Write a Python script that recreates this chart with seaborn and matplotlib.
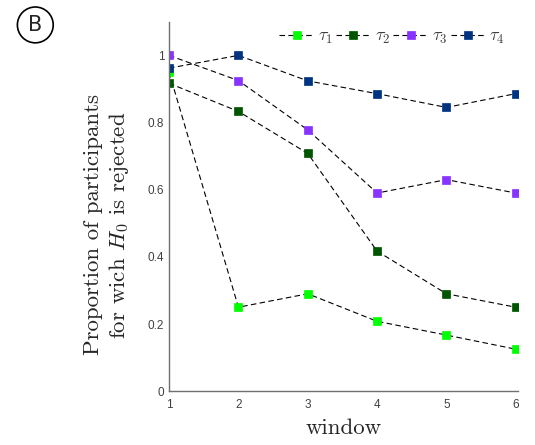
import pandas as pd
import matplotlib
matplotlib.use("Agg")
import matplotlib.pyplot as plt
import seaborn as sns

# --- datos ---
windows = [1, 2, 3, 4, 5, 6]
tau1 = [0.95, 0.25, 0.29, 0.208, 0.167, 0.125]
tau2 = [0.917, 0.833, 0.708, 0.417, 0.29, 0.25]
tau3 = [1.0, 0.925, 0.778, 0.59, 0.63, 0.59]
tau4 = [0.962, 1.0, 0.924, 0.886, 0.845, 0.886]
series_labels = [r"$\tau_1$", r"$\tau_2$", r"$\tau_3$", r"$\tau_4$"]
series_colors = ["#00ff00", "#005500", "#8833ff", "#003380"]
y_ticks = [0, 0.2, 0.4, 0.6, 0.8, 1]
y_ticklabels = ["0", "0.2", "0.4", "0.6", "0.8", "1"]

sns.set_style("white")
plt.rcParams["mathtext.fontset"] = "cm"
plt.rcParams["axes.unicode_minus"] = False

fig = plt.figure(figsize=(5.35, 4.45), dpi=100)
ax = fig.add_axes([0.316, 0.121, 0.652, 0.83])

for vals, lab, col in zip([tau1, tau2, tau3, tau4], series_labels, series_colors):
    df = pd.DataFrame({"window": windows, "prop": vals})
    sns.lineplot(data=df, x="window", y="prop", ax=ax, color="black",
                 linestyle=(0, (5, 3)), linewidth=0.8, marker="s",
                 markersize=5.5, markerfacecolor=col, markeredgecolor=col,
                 markeredgewidth=0.5, label=lab)

ax.set_xlim(1, 6.03)
ax.set_ylim(0, 1.1)
ax.set_xticks(windows)
ax.set_yticks(y_ticks)
ax.set_yticklabels(y_ticklabels)
for s in ["top", "right"]:
    ax.spines[s].set_visible(False)
for s in ["left", "bottom"]:
    ax.spines[s].set_color("#707070")
    ax.spines[s].set_linewidth(1.0)
ax.tick_params(direction="in", length=4, width=0.8, colors="#707070",
               labelcolor="#404040", labelsize=8.5)
ax.tick_params(axis="x", pad=6)
for t in ax.get_xticklabels() + ax.get_yticklabels():
    t.set_fontfamily("Liberation Sans")

ax.set_xlabel("window", fontfamily="cmr10", fontsize=16.5, labelpad=5)
ax.set_ylabel("Proportion of participants\nfor wich $H_0$ is rejected",
              fontfamily="cmr10", fontsize=16.5)
ax.yaxis.set_label_coords(-0.11, 0.45)

leg = ax.legend(loc="upper right", ncol=4, frameon=False,
                bbox_to_anchor=(1.01, 1.03), handlelength=1.9,
                handletextpad=0.25, columnspacing=0.15, fontsize=13)
for t in leg.get_texts():
    t.set_color("#404040")

fig.text(0.066, 0.944, "B", fontsize=15, ha="center", va="center",
         bbox=dict(boxstyle="circle,pad=0.38", fc="white", ec="black", lw=1.2))

fig.savefig("out.png", dpi=100)
